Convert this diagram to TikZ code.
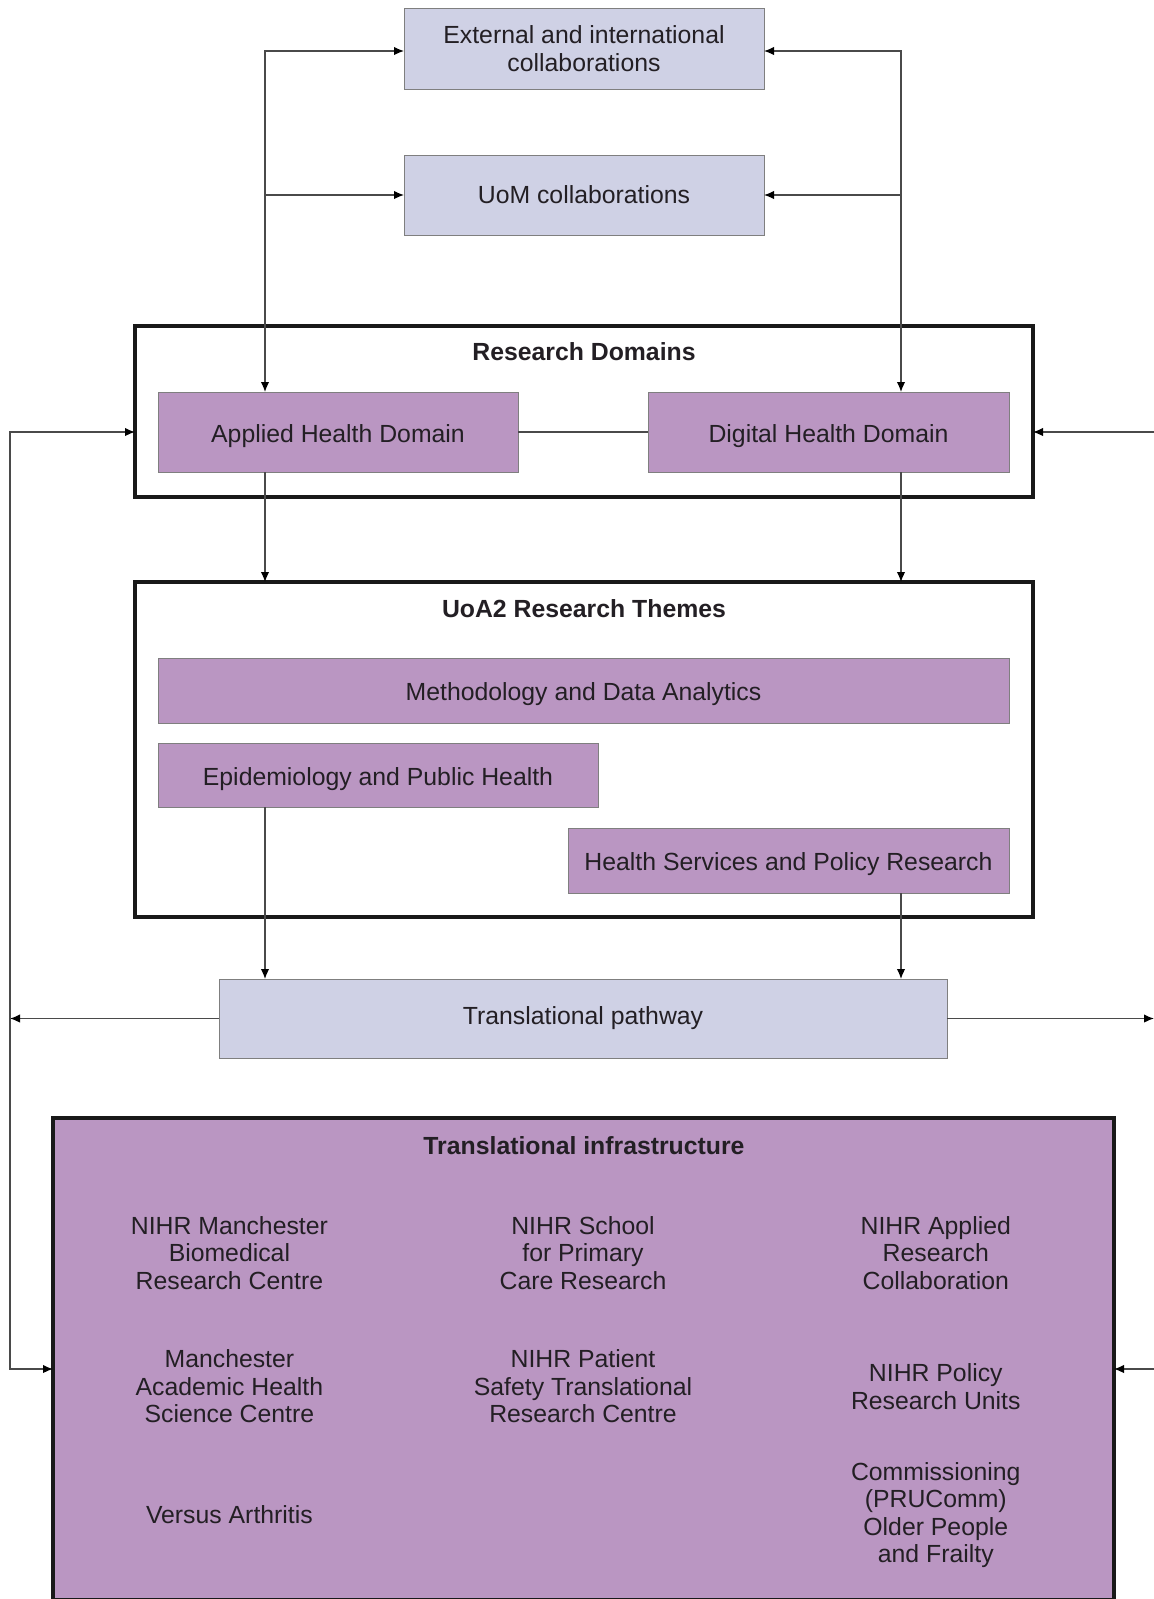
\documentclass[tikz,border=0pt]{standalone}
\usepackage{fontspec}
\setmainfont{Liberation Sans}
\usetikzlibrary{arrows.meta}
\definecolor{lav}{HTML}{CFD1E5}
\definecolor{purp}{HTML}{BA96C2}
\definecolor{txt}{HTML}{231F24}
\definecolor{conn}{HTML}{4A4A4A}
\definecolor{bord}{HTML}{7F7F7F}
\begin{document}
\begin{tikzpicture}[x=1pt,y=-1pt,
  every node/.style={font=\fontsize{24.8}{27.5}\selectfont, text=txt, inner sep=0pt, outer sep=0pt},
  lavbox/.style={draw=bord, line width=1pt, fill=lav, align=center},
  purpbox/.style={draw=bord, line width=1pt, fill=purp, align=center, text height=20.6pt, text depth=0pt},
  frame/.style={draw=black!90, line width=4pt},
  ttl/.style={font=\fontsize{24.8}{27.5}\selectfont\bfseries},
  item/.style={align=center},
  conline/.style={draw=conn, line width=1.3pt},
  arr/.style={conline, -{Latex[length=10pt,width=8.5pt,black]}},
  darr/.style={conline, {Latex[length=10pt,width=8.5pt,black]}-{Latex[length=10pt,width=8.5pt,black]}}
]
\useasboundingbox (0,0) rectangle (1154,1599);
\fill[white] (0,0) rectangle (1154,1599);

% coordinates for connector routes
\coordinate (lx) at (265,0);
\coordinate (rx) at (901,0);
\coordinate (fx) at (10,0);
\coordinate (ye) at (0,51);
\coordinate (ya) at (0,1369);
\coordinate (redge) at (1154,0);

% top boxes
\node[lavbox, minimum width=360pt, minimum height=81pt] (ext) at (584,48.5) {External and international\\collaborations};
\node[lavbox, minimum width=360pt, minimum height=80pt] (uom) at (584,195) {UoM collaborations};

% research domains
\node[frame, minimum width=898pt, minimum height=171pt] (rd) at (584,411.5) {};
\node[ttl] (rdt) at (584,352) {Research Domains};
\node[purpbox, minimum width=360pt, minimum height=80pt] (app) at (338,432) {Applied Health Domain};
\node[purpbox, minimum width=361pt, minimum height=80pt] (dig) at (828.5,432) {Digital Health Domain};

% UoA2 themes
\node[frame, minimum width=898pt, minimum height=335pt] (uoa) at (584,749.5) {};
\node[ttl] (uoat) at (584,609) {UoA2 Research Themes};
\node[purpbox, minimum width=851pt, minimum height=65pt] (meth) at (583.5,690.5) {Methodology and Data Analytics};
\node[purpbox, minimum width=440pt, minimum height=64pt] (epi) at (378,775) {Epidemiology and Public Health};
\node[purpbox, minimum width=441pt, minimum height=65pt] (hs) at (788.5,860.5) {Health Services and Policy Research};

% translational pathway
\node[lavbox, minimum width=728pt, minimum height=79pt] (tp) at (583,1018.5) {Translational pathway};

% translational infrastructure
\node[frame, fill=purp, minimum width=1061pt, minimum height=482pt] (ti) at (583.5,1359) {};
\node[ttl] (tit) at (584,1146) {Translational infrastructure};
\node[item] (i1) at (229.4,1253) {NIHR Manchester\\Biomedical\\Research Centre};
\node[item] (i2) at (583,1253) {NIHR School\\for Primary\\Care Research};
\node[item] (i3) at (935.8,1253) {NIHR Applied\\Research\\Collaboration};
\node[item] (i4) at (229.4,1386.5) {Manchester\\Academic Health\\Science Centre};
\node[item] (i5) at (583,1386.5) {NIHR Patient\\Safety Translational\\Research Centre};
\node[item] (i6) at (935.8,1386.5) {NIHR Policy\\Research Units};
\node[item] (i7) at (229.4,1515) {Versus Arthritis};
\node[item] (i8) at (935.8,1515) {Commissioning\\(PRUComm)\\Older People\\and Frailty};

% connectors: top
\draw[darr] (ext.west |- ye) -| (app.north -| lx);
\draw[arr] (lx |- uom.west) -- (uom.west);
\draw[darr] (ext.east |- ye) -| (dig.north -| rx);
\draw[arr] (rx |- uom.east) -- (uom.east);

% between domains
\draw[conline] (app.east) -- (dig.west);

% domains to themes
\draw[arr] (app.south -| lx) -- (uoa.north -| lx);
\draw[arr] (dig.south -| rx) -- (uoa.north -| rx);

% themes to pathway
\draw[arr] (epi.south -| lx) -- (tp.north -| lx);
\draw[arr] (hs.south -| rx) -- (tp.north -| rx);

% pathway outward
\draw[arr] (tp.west) -- (tp.west -| fx);
\draw[arr] (tp.east) -- (tp.east -| redge);

% left feedback loop
\draw[darr] (rd.west |- app.west) -| (fx |- ya) -- (ti.west |- ya);

% right incoming
\draw[arr] (redge |- app.east) -- (rd.east |- app.east);
\draw[arr] (redge |- ya) -- (ti.east |- ya);
\end{tikzpicture}
\end{document}
